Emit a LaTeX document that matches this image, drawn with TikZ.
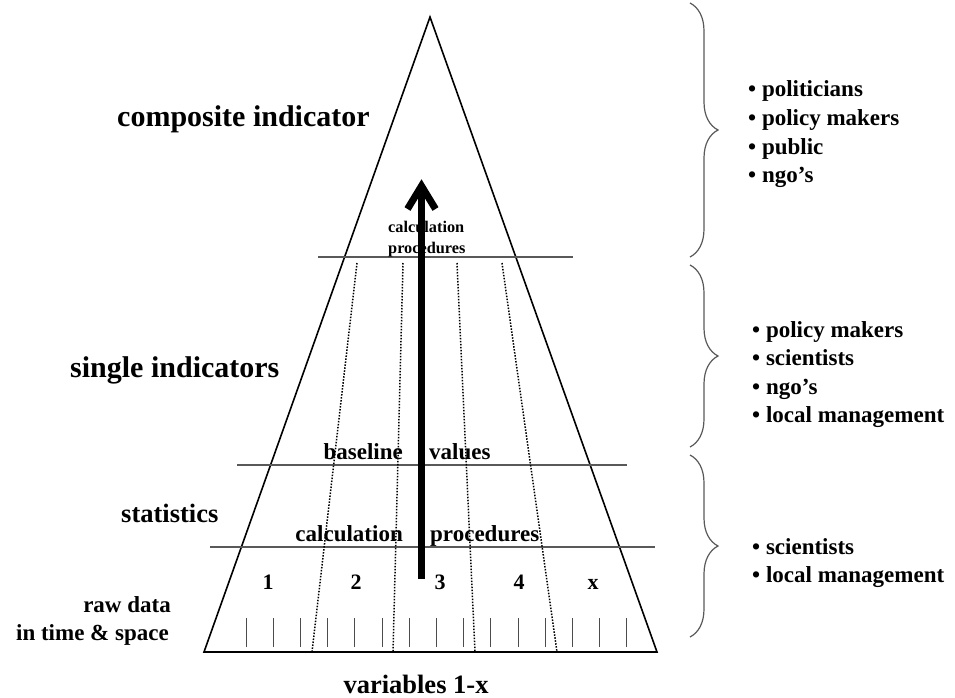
\documentclass[tikz,border=0pt]{standalone}
\usepackage{fontspec}
\setmainfont{Liberation Serif}
\usetikzlibrary{decorations.pathreplacing}
\begin{document}
\begin{tikzpicture}[x=1pt,y=-1pt,
  big/.style={font=\fontsize{30}{36}\selectfont\bfseries, inner sep=0pt},
  mid/.style={font=\fontsize{26.5}{32}\selectfont\bfseries, inner sep=0pt},
  txt/.style={font=\fontsize{23}{28}\selectfont\bfseries, inner sep=0pt},
  small/.style={font=\fontsize{16.3}{20}\selectfont\bfseries, inner sep=0pt, anchor=base west},
  num/.style={font=\fontsize{22}{26}\selectfont\bfseries, inner sep=0pt, anchor=base},
  item/.style={font=\fontsize{23}{28}\selectfont\bfseries, inner sep=0pt, anchor=base west},
  level/.style={draw=black!65, line width=1.3pt},
  divider/.style={line width=1.5pt, dash pattern=on 1.5pt off 1.5pt},
  tick/.style={draw=black!70, line width=0.9pt},
  grp/.style={draw=black!65, line width=1.2pt, decorate, decoration={brace, amplitude=28pt}},
  side/.style={line width=1.6pt},
  shaft/.style={line width=7pt},
  barb/.style={line width=7pt, line join=miter, line cap=butt}
]
\useasboundingbox (0,0) rectangle (955,698);

% triangle
\coordinate (apex) at (430,17);
\coordinate (bl) at (204,652);
\coordinate (br) at (657,652);
\draw[side, line join=miter] (apex) -- (br) -- (bl) -- cycle;
\draw[line width=2.2pt] (bl) -- (br);

% level lines
\coordinate (l1a) at (318,257); \coordinate (l1b) at (573,257);
\coordinate (l2a) at (237,465); \coordinate (l2b) at (627,465);
\coordinate (l3a) at (210,547); \coordinate (l3b) at (655,547);
\draw[level] (l1a) -- (l1b);
\draw[level] (l2a) -- (l2b);
\draw[level] (l3a) -- (l3b);

% dotted dividers
\coordinate (d1t) at (357,263); \coordinate (d1b) at (312,652);
\coordinate (d2t) at (403,263); \coordinate (d2b) at (393,652);
\coordinate (d3t) at (457,263); \coordinate (d3b) at (475,652);
\coordinate (d4t) at (502,263); \coordinate (d4b) at (557,652);
\draw[divider] (d1t) -- (d1b);
\draw[divider] (d2t) -- (d2b);
\draw[divider] (d3t) -- (d3b);
\draw[divider] (d4t) -- (d4b);

% ticks
\foreach \i in {0,...,14} {
  \coordinate (t\i a) at ({246+27.21*\i},618);
  \coordinate (t\i b) at ({246+27.21*\i},647);
  \draw[tick] (t\i a) -- (t\i b);
}

% left labels
\node[big, anchor=base west] (ci) at (117,126) {composite indicator};
\node[big, anchor=base west] (si) at (70,377) {single indicators};
\node[mid, anchor=base west] (st) at (121,522) {statistics};
\node[txt, anchor=base east] (rd1) at (171,612) {raw data};
\node[txt, anchor=base east] (rd2) at (169,640) {in time \& space};
\node[mid, anchor=base] (var) at (416,693) {variables 1-x};

% inside labels
\node[txt, anchor=base east] (cal2) at (403,541) {calculation};
\node[txt, anchor=base west] (pro2) at (430,541) {procedures};
\node[txt, anchor=base east] (bas) at (403,459) {baseline};
\node[txt, anchor=base west] (val) at (429,459) {values};
\node[small] (cal1) at (388,232) {calculation};
\node[small] (pro1) at (388,253) {procedures};

\node[num] (n1) at (268,589) {1};
\node[num] (n2) at (356,589) {2};
\node[num] (n3) at (440,589) {3};
\node[num] (n4) at (519,589) {4};
\node[num] (nx) at (593,589) {x};

% arrow
\coordinate (abase) at (421.5,579);
\coordinate (aneck) at (421.5,188);
\coordinate (apt) at (421.5,186);
\coordinate (awl) at (407.5,209);
\coordinate (awr) at (435.5,209);
\draw[shaft] (abase) -- (aneck);
\draw[barb] (awl) -- (apt) -- (awr);

% braces
\coordinate (b1t) at (690,3);   \coordinate (b1b) at (690,257);
\coordinate (b2t) at (690,265); \coordinate (b2b) at (690,447);
\coordinate (b3t) at (690,455); \coordinate (b3b) at (690,637);
\draw[grp] (b1t) -- (b1b);
\draw[grp] (b2t) -- (b2b);
\draw[grp] (b3t) -- (b3b);

% audience lists
\node[item] (a1) at (748,97)  {• politicians};
\node[item] (a2) at (748,125.5) {• policy makers};
\node[item] (a3) at (748,154) {• public};
\node[item] (a4) at (748,182.5) {• ngo’s};

\node[item] (b1) at (752,337) {• policy makers};
\node[item] (b2) at (752,365.5) {• scientists};
\node[item] (b3) at (752,394) {• ngo’s};
\node[item] (b4) at (752,422.5) {• local management};

\node[item] (c1) at (752,554) {• scientists};
\node[item] (c2) at (752,582.5) {• local management};
\end{tikzpicture}
\end{document}
